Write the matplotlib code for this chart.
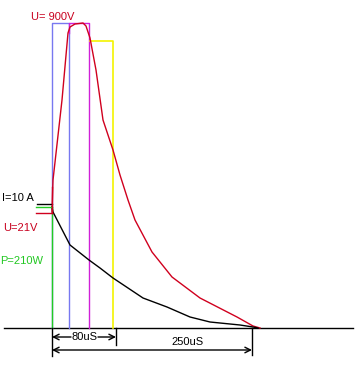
import matplotlib
matplotlib.use("Agg")
import matplotlib.pyplot as plt

# ---- data (time axis in drawing units, amplitude in drawing units; y grows downward) ----
baseline_y = 328
baseline_x = [4, 353]

# voltage curve U (red)
u_x = [52, 53, 62, 68, 70, 75, 83, 86, 90, 96, 103, 113, 120, 128, 135, 152, 172, 200, 237, 253, 260]
u_y = [212, 180, 100, 33, 27, 24, 23, 26, 38, 70, 120, 150, 175, 200, 220, 252, 277, 298, 317, 326, 328]

# current curve I (black)
i_x = [52, 53, 70, 89, 100, 113, 143, 167, 190, 210, 240, 253, 258]
i_y = [207, 212, 245, 260, 268, 278, 298, 307, 317, 322, 325, 327, 328]

# pulse windows (left, right, top)
blue_box = (52, 69, 23)
magenta_box = (69, 89, 23)
yellow_box = (89, 113, 41)
green_line = (52, 207)

# left level markers (x0, x1, y)
i_mark = (37, 52, 204)
p_mark = (36, 52, 207)
u_mark = (36, 52, 213)

# dimension markers
dim80 = (52, 116)
dim250 = (52, 252)
dim80_label = "80uS"
dim250_label = "250uS"

labels = [("U= 900V", 31, 17, "#c8001e"),
          ("I=10 A", 2, 198, "black"),
          ("U=21V", 3, 228, "#c8001e"),
          ("P=210W", 0, 261, "#22c822")]

RED = "#d0001e"
BLUE = "#7878f0"
MAG = "#d020d8"
YEL = "#f4f400"
GRN = "#22cc22"

fig = plt.figure(figsize=(3.58, 3.68), dpi=100)
ax = fig.add_axes([0, 0, 1, 1])
ax.set_xlim(0, 358)
ax.set_ylim(368, 0)
ax.axis("off")
lw = 1.0

# baseline
ax.plot(baseline_x, [baseline_y] * 2, color="black", lw=lw)

# boxes
l, r, t = blue_box
ax.plot([l, l, r, r], [baseline_y, t, t, baseline_y], color=BLUE, lw=lw)
l, r, t = magenta_box
ax.plot([l, l, r, r], [t + 10, t, t, baseline_y], color=MAG, lw=lw)
l, r, t = yellow_box
ax.plot([l + 1, r, r], [t, t, baseline_y], color=YEL, lw=1.2)
ax.plot([green_line[0]] * 2, [green_line[1], baseline_y], color=GRN, lw=lw)

# curves
ax.plot(u_x, u_y, color=RED, lw=lw)
ax.plot(i_x, i_y, color="black", lw=lw)

# markers at left
ax.plot(i_mark[:2], [i_mark[2]] * 2, color="black", lw=lw)
ax.plot(p_mark[:2], [p_mark[2]] * 2, color=GRN, lw=lw)
ax.plot(u_mark[:2], [u_mark[2]] * 2, color=RED, lw=lw)
ax.plot([52, 52], [187, 213], color=RED, lw=lw)

for txt, x, y, c in labels:
    ax.text(x, y, txt, color=c, fontsize=8, family="Liberation Sans",
            ha="left", va="center")

# dimension lines
y80 = 337
y250 = 350
ax.plot([dim80[0]] * 2, [baseline_y, 356], color="black", lw=lw)
ax.plot([dim80[1]] * 2, [baseline_y, 345], color="black", lw=lw)
ax.plot([dim250[1]] * 2, [baseline_y, 355], color="black", lw=lw)

aprops = dict(arrowstyle="->", color="black", lw=lw, shrinkA=0, shrinkB=0,
              mutation_scale=10)
mid80 = (dim80[0] + dim80[1]) / 2
ax.annotate("", xy=(dim80[0], y80), xytext=(mid80 - 13, y80), arrowprops=aprops)
ax.annotate("", xy=(dim80[1], y80), xytext=(mid80 + 14, y80), arrowprops=aprops)
ax.text(mid80, y80, dim80_label, fontsize=8, family="Liberation Sans",
        ha="center", va="center")

ax.annotate("", xy=(dim250[0], y250), xytext=(dim250[1], y250),
            arrowprops=dict(arrowstyle="<->", color="black", lw=lw, shrinkA=0,
                            shrinkB=0, mutation_scale=10))
ax.text((dim250[0] + dim250[1]) / 2 + 36, 342, dim250_label, fontsize=8,
        family="Liberation Sans", ha="center", va="center")

fig.savefig("out.png", dpi=100)
